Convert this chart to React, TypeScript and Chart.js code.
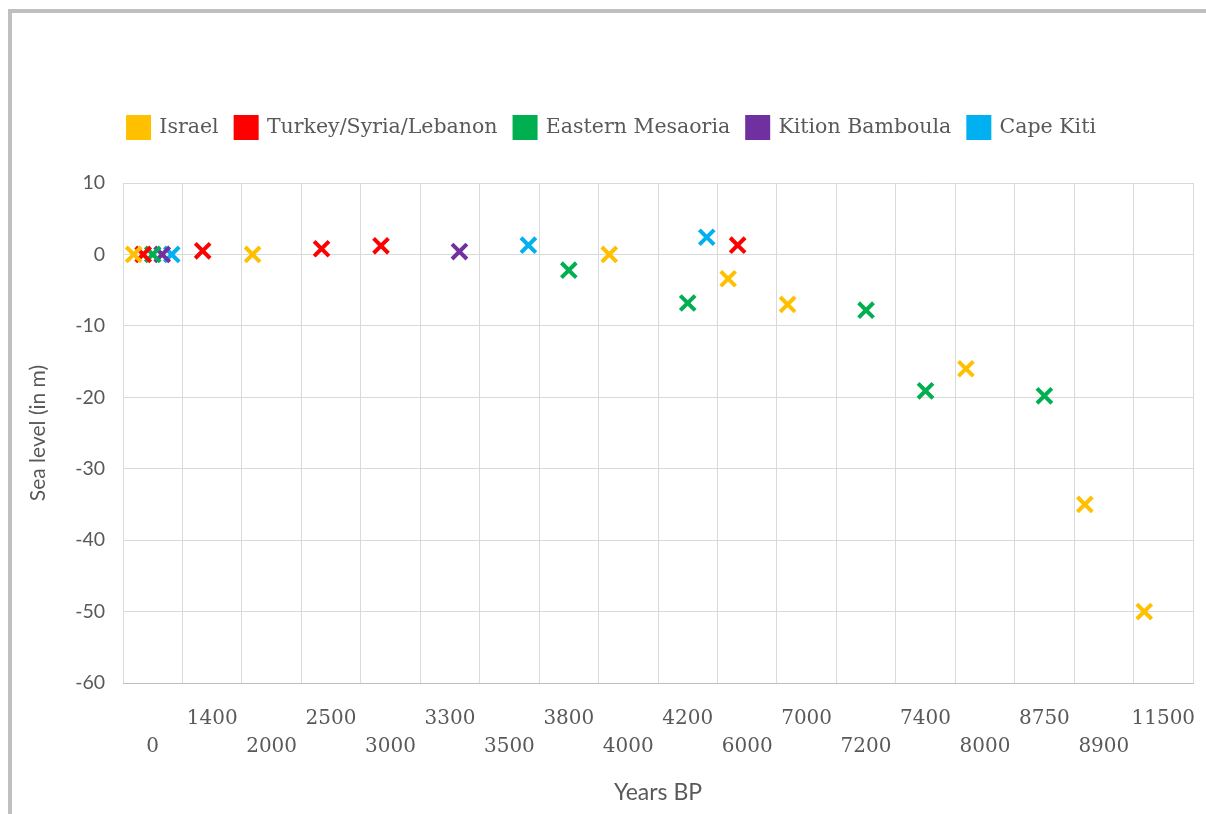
import React, { useEffect, useRef } from "react";
import { Chart, registerables } from "chart.js";

Chart.register(...registerables);

// Category labels of the x axis (Years BP)
const xLabels = ["0", "1400", "2000", "2500", "3000", "3300", "3500", "3800", "4000", "4200", "6000", "7000", "7200", "7400", "8000", "8750", "8900", "11500"];
const yTicks = [-60, -50, -40, -30, -20, -10, 0, 10];

// Series (category label + sea level in m)
const israelYears = ["0", "2000", "4000", "6000", "7000", "8000", "8900", "11500"];
const israelLevel = [0, 0, 0, -3.4, -7, -16, -35, -50];

const turkeyYears = ["0", "1400", "2500", "3000", "6000"];
const turkeyLevel = [0, 0.5, 0.8, 1.2, 1.3];

const mesaoriaYears = ["0", "3800", "4200", "7200", "7400", "8750"];
const mesaoriaLevel = [0, -2.2, -6.8, -7.8, -19.1, -19.8];

const kitionYears = ["0", "3300"];
const kitionLevel = [0, 0.4];

const capeYears = ["0", "3500", "4200"];
const capeLevel = [0, 1.3, 2.4];

const seriesNames = ["Israel", "Turkey/Syria/Lebanon", "Eastern Mesaoria", "Kition Bamboula", "Cape Kiti"];
const seriesColors = ["#FFC000", "#FF0000", "#00B050", "#7030A0", "#00B0F0"];

const TEXT = "#595959";
const GRID = "#d9d9d9";

export default function App() {
  const ref = useRef<HTMLCanvasElement | null>(null);

  useEffect(() => {
    if (!ref.current) return;
    const years = [israelYears, turkeyYears, mesaoriaYears, kitionYears, capeYears];
    const levels = [israelLevel, turkeyLevel, mesaoriaLevel, kitionLevel, capeLevel];
    // cluster offsets within a category band (like a clustered layout of 5 series)
    const clusterOffsets = [-0.32, -0.16, 0, 0.16, 0.32];

    const datasets = seriesNames.map((name, s) => ({
      label: name,
      data: years[s].map((yr, i) => ({ x: xLabels.indexOf(yr) + clusterOffsets[s], y: levels[s][i] })),
      xAxisID: "xv",
      yAxisID: "y",
      showLine: false,
      backgroundColor: seriesColors[s],
      borderColor: seriesColors[s],
      borderWidth: 1,
      pointStyle: "crossRot",
      pointRadius: 10.5,
      pointHoverRadius: 10.5,
      pointBorderWidth: 4,
      pointBorderColor: seriesColors[s],
      pointBackgroundColor: seriesColors[s],
    }));

    const legendHeight = {
      id: "legendHeight",
      beforeInit(chart: any) {
        const legend = chart.legend;
        if (!legend) return;
        const orig = legend.fit;
        legend.fit = function () {
          orig.call(this);
          this.height = 83;
        };
      },
    };

    const chart = new Chart(ref.current, {
      type: "scatter",
      data: { datasets: datasets as any },
      plugins: [legendHeight],
      options: {
        animation: false,
        responsive: false,
        maintainAspectRatio: false,
        layout: { padding: { left: 19, right: 19, top: 87, bottom: 0 } },
        plugins: {
          tooltip: { enabled: false },
          legend: {
            position: "top",
            labels: {
              boxWidth: 21,
              boxHeight: 21,
              padding: 17,
              color: TEXT,
              font: { family: "DejaVu Serif", size: 20.5 },
            },
          },
        },
        scales: {
          x: {
            type: "category",
            labels: xLabels,
            min: 0,
            max: xLabels.length - 1,
            offset: true,
            position: "bottom",
            grid: { offset: true, color: GRID, drawTicks: false },
            border: { color: "#bfbfbf" },
            ticks: {
              autoSkip: false,
              maxRotation: 0,
              minRotation: 0,
              padding: 22,
              color: TEXT,
              font: { family: "DejaVu Serif", size: 20, lineHeight: "28px" },
              callback: (_v: any, i: number) => (i % 2 === 0 ? ["", xLabels[i]] : [xLabels[i], ""]),
            },
            title: {
              display: true,
              text: "Years BP",
              color: TEXT,
              font: { family: "Lato", size: 23 },
              padding: { top: 0, bottom: 8 },
            },
            afterFit: (scale: any) => {
              scale.height = 131;
              scale.paddingLeft = 0;
              scale.paddingRight = 0;
            },
          } as any,
          xv: {
            type: "linear",
            display: false,
            min: -0.5,
            max: xLabels.length - 0.5,
          },
          y: {
            type: "linear",
            min: yTicks[0],
            max: yTicks[yTicks.length - 1],
            afterBuildTicks: (scale: any) => {
              scale.ticks = yTicks.map((v) => ({ value: v }));
            },
            grid: { color: GRID, drawTicks: false },
            border: { display: false },
            ticks: {
              padding: 18,
              color: TEXT,
              font: { family: "Lato", size: 19.5 },
            },
            title: {
              display: true,
              text: "Sea level (in m)",
              color: TEXT,
              font: { family: "Lato", size: 21, lineHeight: "14px" },
              padding: 0,
            },
            afterFit: (scale: any) => {
              scale.width = 92;
            },
          } as any,
        },
      },
    });
    return () => chart.destroy();
  }, []);

  return (
    <div style={{ position: "absolute", left: 0, top: 0, width: 1206, height: 814, overflow: "hidden", background: "#fff" }}>
      <div
        style={{
          position: "absolute",
          left: 8,
          top: 9,
          width: 1240,
          height: 840,
          border: "4px solid #bfbfbf",
          boxSizing: "border-box",
        }}
      />
      <div style={{ position: "absolute", left: 12, top: 13, width: 1200, height: 801 }}>
        <canvas ref={ref} width={1200} height={801} style={{ display: "block" }} />
      </div>
    </div>
  );
}
